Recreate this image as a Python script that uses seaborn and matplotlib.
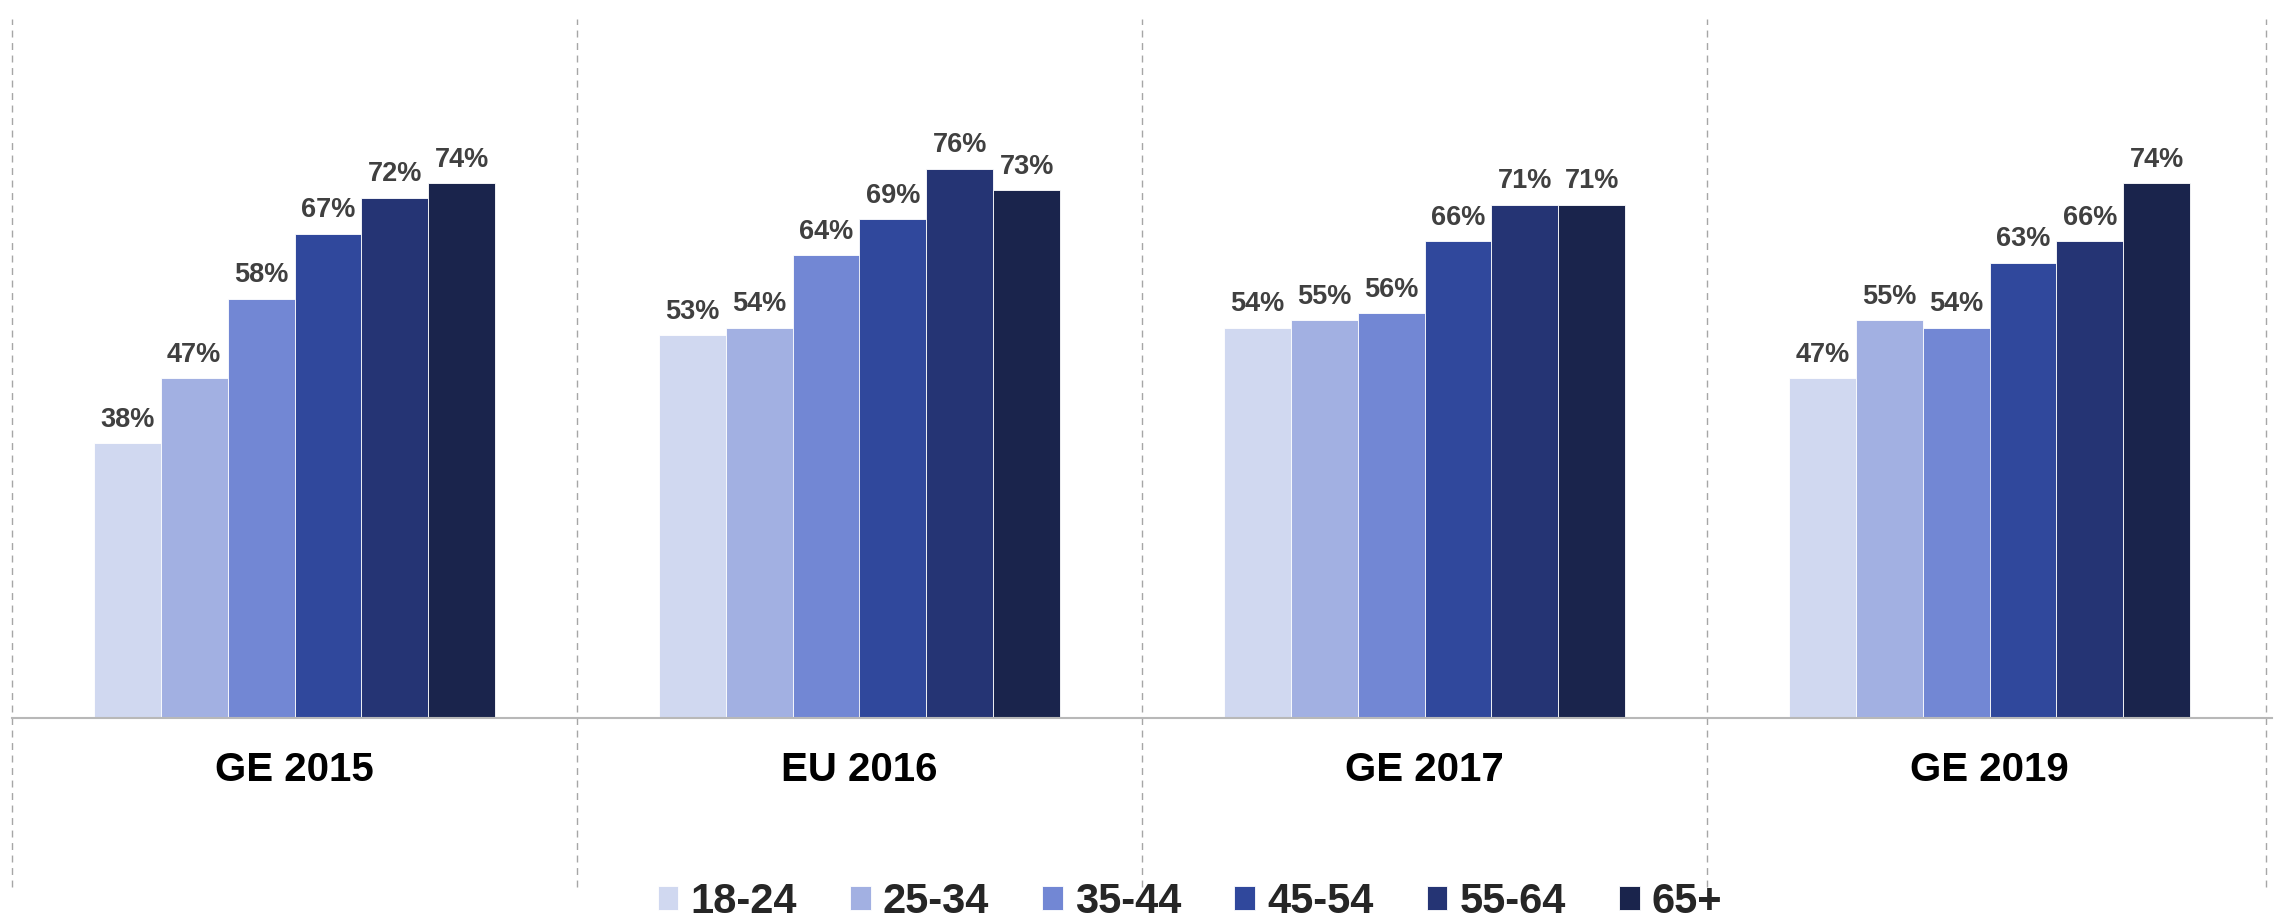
# turnout by age group across four votes

import matplotlib
matplotlib.use("Agg")
import matplotlib.pyplot as plt
import seaborn as sns
import pandas as pd

elections = ["GE 2015", "EU 2016", "GE 2017", "GE 2019"]
age_groups = ["18-24", "25-34", "35-44", "45-54", "55-64", "65+"]

# turnout (%) per age group, one list per election
ge_2015 = [38, 47, 58, 67, 72, 74]
eu_2016 = [53, 54, 64, 69, 76, 73]
ge_2017 = [54, 55, 56, 66, 71, 71]
ge_2019 = [47, 55, 54, 63, 66, 74]

colors = ["#D0D8F0", "#A2B0E2", "#7287D4", "#30489C", "#253474", "#1A244C"]

rows = []
for name, vals in zip(elections, [ge_2015, eu_2016, ge_2017, ge_2019]):
    for age, v in zip(age_groups, vals):
        rows.append({"election": name, "age": age, "turnout": v})
df = pd.DataFrame(rows)

sns.set_style("white")
plt.rcParams["font.family"] = ["Liberation Sans", "DejaVu Sans"]

fig = plt.figure(figsize=(22.74, 9.19), dpi=100)
ax = fig.add_axes([12 / 2274, 1 - 718 / 919, 2260 / 2274, 696 / 919])

sns.barplot(data=df, x="election", y="turnout", hue="age", hue_order=age_groups,
            palette=colors, saturation=1, width=0.71, errorbar=None,
            edgecolor="white", linewidth=0.6, ax=ax)

for c in ax.containers:
    ax.bar_label(c, fmt="%d%%", padding=7.5, fontsize=19.5,
                 fontweight="bold", color="#404040")

ax.set_xlim(-0.5, 3.5)
ax.set_ylim(0, 96.3)
ax.set_xlabel("")
ax.set_ylabel("")
ax.set_yticks([])
ax.tick_params(axis="x", length=0, pad=24)
ax.set_xticks(range(len(elections)))
ax.set_xticklabels(elections, fontsize=29, fontweight="bold", color="black")

for s in ["top", "right", "left"]:
    ax.spines[s].set_visible(False)
ax.spines["bottom"].set_color("#b8b8b8")
ax.spines["bottom"].set_linewidth(1.5)

# dashed separators between the groups
for xpos in [-0.5, 0.5, 1.5, 2.5, 3.49]:
    ax.plot([xpos, xpos], [-0.243, 1.005], transform=ax.get_xaxis_transform(),
            color="#a6a6a6", linewidth=1, linestyle=(0, (5, 4)), clip_on=False)

handles, labels = ax.get_legend_handles_labels()
ax.legend_.remove()
fig.legend(handles, labels, loc="center", bbox_to_anchor=(1190 / 2274, 1 - 902 / 919),
           ncol=6, frameon=False, handlelength=0.5, handleheight=0.5,
           handletextpad=0.29, columnspacing=1.27,
           prop={"size": 30, "weight": "bold"})

fig.savefig("out.png", dpi=100)
